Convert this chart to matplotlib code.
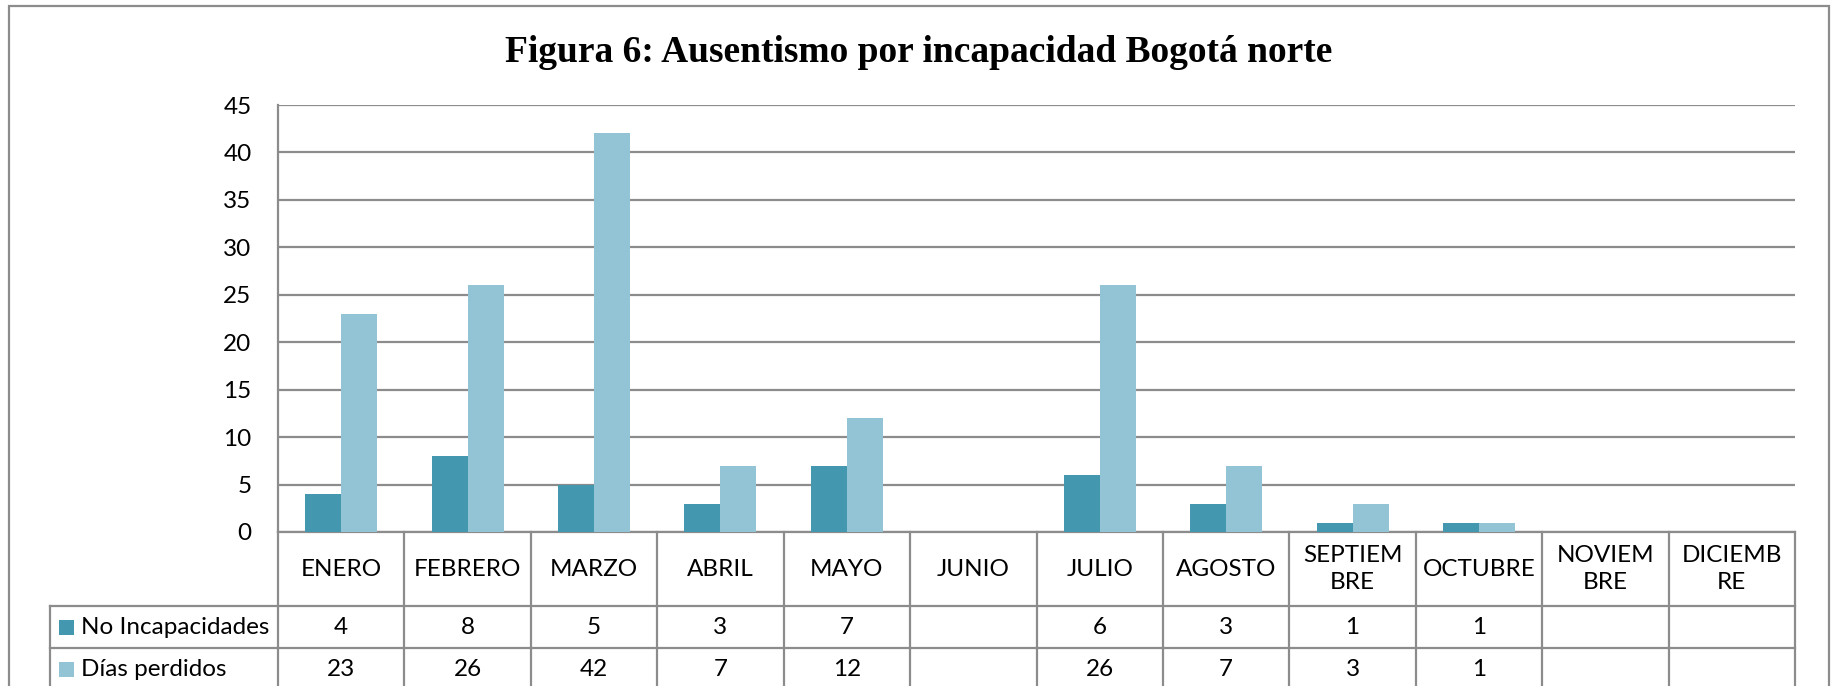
import matplotlib.pyplot as plt
import numpy as np
from matplotlib.lines import Line2D
from matplotlib.patches import Rectangle
from matplotlib.transforms import blended_transform_factory

# datos de la figura
meses = ["ENERO", "FEBRERO", "MARZO", "ABRIL", "MAYO", "JUNIO", "JULIO",
         "AGOSTO", "SEPTIEM\nBRE", "OCTUBRE", "NOVIEM\nBRE", "DICIEMB\nRE"]
no_incapacidades = [4, 8, 5, 3, 7, None, 6, 3, 1, 1, None, None]
dias_perdidos = [23, 26, 42, 7, 12, None, 26, 7, 3, 1, None, None]
series_names = ["No Incapacidades", "Días perdidos"]
y_ticks = list(range(0, 50, 5))

colors = ["#4398b0", "#93c4d6"]
line_color = "#8c8c8c"
title = "Figura 6: Ausentismo por incapacidad Bogotá norte"

W, H = 1836, 686
plt.rcParams["font.family"] = ["Lato", "DejaVu Sans"]
fs = 17.5

fig = plt.figure(figsize=(W / 100, H / 100), dpi=100)


def fx(px):
    return px / W


def fy(px):
    return 1 - px / H


# plot area in pixels
left, right, top, zero = 278, 1795, 105, 532
ax = fig.add_axes([fx(left), fy(zero), fx(right - left), (zero - top) / H])

series = [no_incapacidades, dias_perdidos]
x = np.arange(len(meses))
bar_w = 0.285
for i, (vals, c) in enumerate(zip(series, colors)):
    v = np.array([np.nan if a is None else a for a in vals], dtype=float)
    ax.bar(x + (i - 0.5) * bar_w, v, width=bar_w, color=c, zorder=3)

ax.set_xlim(-0.5, len(meses) - 0.5)
ax.set_ylim(0, 45)
ax.set_yticks(y_ticks)
ax.set_xticks([])
ax.tick_params(axis="y", length=0, pad=19, labelsize=fs)
ax.grid(axis="y", color=line_color, linewidth=1.6, zorder=0)
for s in ["top", "right"]:
    ax.spines[s].set_visible(False)
for s in ["left", "bottom"]:
    ax.spines[s].set_color(line_color)
    ax.spines[s].set_linewidth(1.6)

# outer frame
fig.add_artist(Rectangle((fx(9), fy(700)), fx(1829 - 9), (700 - 6) / H,
                         transform=fig.transFigure, fill=False,
                         edgecolor=line_color, linewidth=1.6))

fig.text(fx(919), fy(53), title, ha="center", va="center",
         family="Liberation Serif", weight="bold", size=27)

# data table under the chart
tr = blended_transform_factory(ax.transData, fig.transFigure)
row_top = [zero, 606, 648]
row_bot = 690
legend_left = 50

for xb in np.arange(len(meses) + 1) - 0.5:
    fig.add_artist(Line2D([xb, xb], [fy(zero), fy(row_bot + 10)], transform=tr,
                          color=line_color, linewidth=1.6))
for yb in row_top[1:]:
    fig.add_artist(Line2D([fx(legend_left), fx(right)], [fy(yb), fy(yb)],
                          transform=fig.transFigure, color=line_color, linewidth=1.6))
fig.add_artist(Line2D([fx(legend_left), fx(legend_left)], [fy(606), fy(row_bot + 10)],
                      transform=fig.transFigure, color=line_color, linewidth=1.6))

for i, m in enumerate(meses):
    fig.text(i, fy((zero + 606) / 2), m, transform=tr, ha="center", va="center",
             size=fs, linespacing=1.3)

row_mid = [(606 + 648) / 2, (648 + row_bot) / 2]
for vals, name, c, ym in zip(series, series_names, colors, row_mid):
    for i, a in enumerate(vals):
        if a is not None:
            fig.text(i, fy(ym), str(a), transform=tr, ha="center", va="center", size=fs)
    fig.add_artist(Rectangle((fx(59), fy(ym + 7.5)), fx(15), 15 / H,
                             transform=fig.transFigure, facecolor=c, edgecolor="none"))
    fig.text(fx(81), fy(ym), name, ha="left", va="center", size=fs)

fig.savefig("out.png", dpi=100)
